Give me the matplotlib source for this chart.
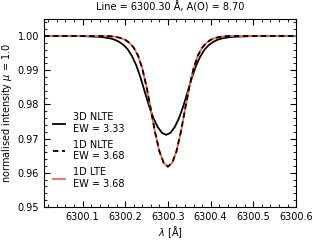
import numpy as np
import matplotlib
matplotlib.use('Agg')
import matplotlib.pyplot as plt
from matplotlib.ticker import MultipleLocator

# 3D NLTE profile (core slightly blueshifted)
wave_3d = [6300.010, 6300.060, 6300.100, 6300.116, 6300.136, 6300.146, 6300.156,
           6300.166, 6300.176, 6300.186, 6300.196, 6300.206, 6300.216, 6300.226,
           6300.236, 6300.246, 6300.256, 6300.266, 6300.276, 6300.286, 6300.296,
           6300.306, 6300.316, 6300.326, 6300.336, 6300.346, 6300.356, 6300.366,
           6300.376, 6300.386, 6300.396, 6300.406, 6300.416, 6300.426, 6300.436,
           6300.446, 6300.456, 6300.476, 6300.500, 6300.550, 6300.600]
flux_3d = [1.0000, 1.0000, 1.0000, 0.9999, 0.9998, 0.9997, 0.9995,
           0.9993, 0.9989, 0.9983, 0.9974, 0.9961, 0.9941, 0.9914,
           0.9878, 0.9836, 0.9795, 0.9760, 0.9734, 0.9717, 0.9711,
           0.9717, 0.9734, 0.9760, 0.9795, 0.9836, 0.9878, 0.9914,
           0.9941, 0.9961, 0.9974, 0.9983, 0.9989, 0.9993, 0.9995,
           0.9997, 0.9998, 0.9999, 1.0000, 1.0000, 1.0000]

# 1D profiles
wave_1d = [6300.01, 6300.06, 6300.10, 6300.12, 6300.14, 6300.15, 6300.16, 6300.17,
           6300.18, 6300.19, 6300.20, 6300.21, 6300.22, 6300.23, 6300.24, 6300.25,
           6300.26, 6300.27, 6300.28, 6300.29, 6300.30, 6300.31, 6300.32, 6300.33,
           6300.34, 6300.35, 6300.36, 6300.37, 6300.38, 6300.39, 6300.40, 6300.41,
           6300.42, 6300.43, 6300.44, 6300.45, 6300.46, 6300.48, 6300.50, 6300.55,
           6300.60]
flux_1d_nlte = [1.0000, 1.0000, 1.0000, 1.0000, 1.0000, 1.0000, 1.0000, 0.9999,
                0.9997, 0.9994, 0.9989, 0.9980, 0.9966, 0.9943, 0.9905, 0.9851,
                0.9785, 0.9718, 0.9663, 0.9629, 0.9618, 0.9629, 0.9663, 0.9718,
                0.9785, 0.9851, 0.9905, 0.9943, 0.9966, 0.9980, 0.9989, 0.9994,
                0.9997, 0.9999, 1.0000, 1.0000, 1.0000, 1.0000, 1.0000, 1.0000,
                1.0000]
# 1D LTE lies on top of 1D NLTE
flux_1d_lte = list(flux_1d_nlte)

labels = ['3D NLTE\nEW = 3.33', '1D NLTE\nEW = 3.68', '1D LTE\nEW = 3.68']

plt.rcParams['font.size'] = 7
fig = plt.figure(figsize=(3.17, 2.4), dpi=100)
ax = fig.add_axes([0.139, 0.1375, 0.795, 0.7835])

ax.plot(wave_3d, flux_3d, color='black', lw=1.3, label=labels[0])
ax.plot(wave_1d, flux_1d_lte, color='tomato', lw=1.3, label=labels[2], zorder=2)
ax.plot(wave_1d, flux_1d_nlte, color='black', lw=1.3, ls=(0, (3, 2)), label=labels[1], zorder=3)

h, l = ax.get_legend_handles_labels()
order = [0, 2, 1]
ax.legend([h[i] for i in order], [l[i] for i in order], loc='lower left',
          frameon=False, handlelength=1.3, labelspacing=0.6,
          bbox_to_anchor=(0.0, 0.05))

ax.set_xlim(6300.01, 6300.6)
ax.set_ylim(0.95, 1.005)
ax.xaxis.set_major_locator(MultipleLocator(0.1))
ax.xaxis.set_minor_locator(MultipleLocator(0.02))
ax.yaxis.set_major_locator(MultipleLocator(0.01))
ax.yaxis.set_minor_locator(MultipleLocator(0.002))
ax.xaxis.set_major_formatter(plt.FormatStrFormatter('%.1f'))
ax.yaxis.set_major_formatter(plt.FormatStrFormatter('%.2f'))
ax.tick_params(which='both', direction='in', top=True, right=True)
ax.tick_params(which='major', length=4)
ax.tick_params(which='minor', length=2)

ax.set_xlabel(r'$\lambda$ [Å]', labelpad=2)
ax.set_ylabel(r'normalised intensity $\mu$ = 1.0', labelpad=3)
ax.set_title('Line = 6300.30 Å, A(O) = 8.70', fontsize=7)

fig.savefig('out.png', dpi=100)
